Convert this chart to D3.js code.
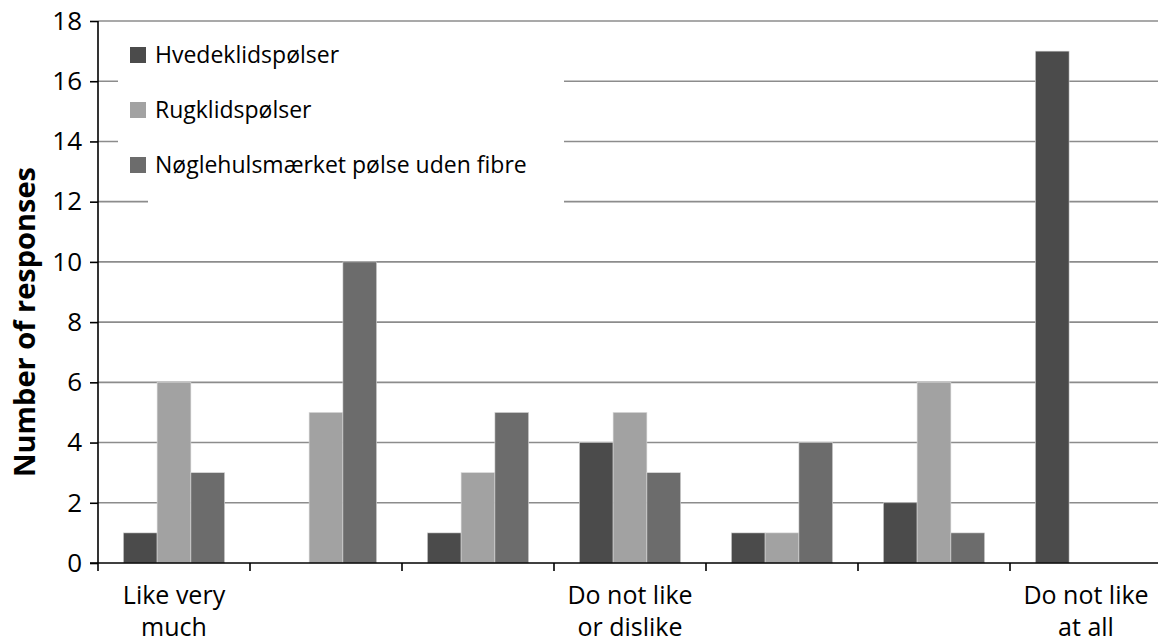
<!DOCTYPE html>
<html><head><meta charset="utf-8">
<script src="https://cdn.jsdelivr.net/npm/d3@7"></script>
<style>body{margin:0;background:#fff}svg{display:block}</style>
</head><body>
<svg id="c" width="1158" height="643"></svg>
<script>
const categories = ["Like very much", "", "", "Do not like or dislike", "", "", "Do not like at all"];
const categoryLines = [["Like very", "much"], [], [], ["Do not like", "or dislike"], [], [], ["Do not like", "at all"]];
const seriesNames = ["Hvedeklidspølser", "Rugklidspølser", "Nøglehulsmærket pølse uden fibre"];
const hvede = [1, 0, 1, 4, 1, 2, 17];
const rug = [6, 5, 3, 5, 1, 6, 0];
const noegle = [3, 10, 5, 3, 4, 1, 0];
const yTicks = [0, 2, 4, 6, 8, 10, 12, 14, 16, 18];
const colors = ["#4b4b4b", "#a2a2a2", "#6c6c6c"];

const seriesValues = [hvede, rug, noegle];
const svg = d3.select("#c");
const font = "'Open Sans', Lato, sans-serif";
const pLeft = 98, pRight = 1162, pTop = 21, pBottom = 563;

const x0 = d3.scaleBand().domain(d3.range(categories.length)).range([pLeft, pRight]).padding(0);
const bw = x0.bandwidth();
const x1 = d3.scaleBand().domain(d3.range(seriesNames.length)).range([bw / 6, bw * 5 / 6]).padding(0);
const y = d3.scaleLinear().domain([0, 18]).range([pBottom, pTop]);

// gridlines
svg.append("g").selectAll("line").data(yTicks.filter(d => d > 0)).join("line")
  .attr("x1", pLeft).attr("x2", 1158)
  .attr("y1", d => y(d)).attr("y2", d => y(d))
  .attr("stroke", "#8c8c8c").attr("stroke-width", 1.6);

// legend masks
svg.append("rect").attr("x", 118).attr("y", 30).attr("width", 564 - 118).attr("height", 160).attr("fill", "#fff");
svg.append("rect").attr("x", 148).attr("y", 190).attr("width", 564 - 148).attr("height", 20).attr("fill", "#fff");

// bars
const groups = svg.append("g").selectAll("g").data(categories.map((c, i) => i)).join("g")
  .attr("transform", i => `translate(${x0(i)},0)`);
groups.selectAll("rect").data(i => seriesValues.map((s, k) => ({k, v: s[i]})).filter(d => d.v > 0)).join("rect")
  .attr("x", d => x1(d.k)).attr("width", x1.bandwidth())
  .attr("y", d => y(d.v)).attr("height", d => y(0) - y(d.v))
  .attr("fill", d => colors[d.k]).attr("stroke", "#d8d8d8").attr("stroke-width", 0.6);

// y axis
const yAxis = d3.axisLeft(y).tickValues(yTicks).tickSize(8).tickPadding(8);
const gy = svg.append("g").attr("transform", `translate(${pLeft},0)`).call(yAxis);
gy.select(".domain").attr("stroke", "#000").attr("stroke-width", 1.6).attr("d", `M0,${pBottom}V${pTop}`);
gy.selectAll(".tick line").attr("stroke", "#000").attr("stroke-width", 1.6);
gy.selectAll(".tick text").attr("font-family", font).attr("font-size", 26).attr("fill", "#000");

// x axis
const gx = svg.append("g").attr("transform", `translate(0,${pBottom})`);
gx.append("line").attr("x1", pLeft - 8).attr("x2", 1158).attr("y1", 0).attr("y2", 0).attr("stroke", "#000").attr("stroke-width", 1.6);
gx.selectAll("line.t").data(d3.range(categories.length)).join("line").attr("class", "t")
  .attr("x1", i => x0(i)).attr("x2", i => x0(i)).attr("y1", 0).attr("y2", 8)
  .attr("stroke", "#000").attr("stroke-width", 1.6);
gx.selectAll("text").data(categoryLines.map((l, i) => ({l, i})).filter(d => d.l.length)).join("text")
  .attr("font-family", font).attr("font-size", 25).attr("text-anchor", "middle").attr("fill", "#000")
  .attr("transform", d => `translate(${x0(d.i) + bw / 2},0)`)
  .selectAll("tspan").data(d => d.l).join("tspan")
  .attr("x", 0).attr("y", (d, j) => 41 + j * 32).text(d => d);

// y label
svg.append("text").attr("transform", `translate(35,322) rotate(-90)`)
  .attr("text-anchor", "middle").attr("font-family", font).attr("font-weight", "bold")
  .attr("font-size", 29).text("Number of responses");

// legend
const lg = svg.append("g").selectAll("g").data(seriesNames).join("g")
  .attr("transform", (d, i) => `translate(130,${55 + i * 55})`);
lg.append("rect").attr("x", 0).attr("y", -8).attr("width", 16).attr("height", 16).attr("fill", (d, i) => colors[i]);
lg.append("text").attr("x", 25).attr("y", 8).attr("font-family", font).attr("font-size", 23).text(d => d);
</script>
</body></html>
